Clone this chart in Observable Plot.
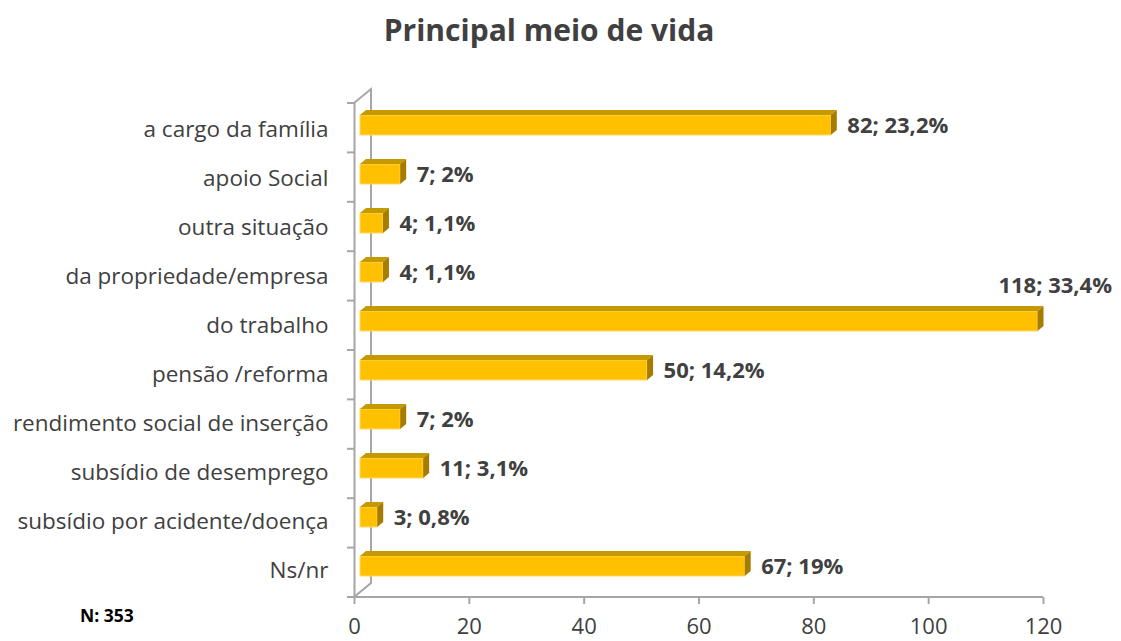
<!DOCTYPE html>
<html><head><meta charset="utf-8">
<script src="https://cdn.jsdelivr.net/npm/d3@7"></script>
<script src="https://cdn.jsdelivr.net/npm/@observablehq/plot@0.6"></script>
<style>
body{margin:0;background:#fff;}
#wrap{position:relative;width:1121px;height:641px;font-family:"Open Sans",sans-serif;overflow:hidden;}
#wrap svg{position:absolute;left:0;top:0;}
#title{position:absolute;left:0;width:1098px;top:9px;line-height:42px;text-align:center;font-weight:bold;font-size:30px;color:#404040;z-index:2;}
#note{position:absolute;left:80px;top:605px;line-height:20px;font-weight:bold;font-size:17.5px;color:#000;z-index:2;}
</style></head><body>
<div id="wrap"><div id="title">Principal meio de vida</div><div id="note">N: 353</div></div>
<script>
const categories = ["a cargo da família","apoio Social","outra situação","da propriedade/empresa","do trabalho","pensão /reforma","rendimento social de inserção","subsídio de desemprego","subsídio por acidente/doença","Ns/nr"];
const counts = [82,7,4,4,118,50,7,11,3,67];
const percents = ["23,2","2","1,1","1,1","33,4","14,2","2","3,1","0,8","19"];
const xTicks = [0,20,40,60,80,100,120];
const data = categories.map((c,i)=>({cat:c, value:counts[i], pct:percents[i]}));

const axisColor = "#a6a6a6";
const textColor = "#404040";
const label = d => `${d.value}; ${d.pct}%`;

const plot = Plot.plot({
  width:1121, height:641,
  marginLeft:354, marginRight:78, marginTop:103, marginBottom:44,
  style:{fontFamily:"'Open Sans', sans-serif", fontSize:"20px", color:textColor, background:"transparent", overflow:"visible"},
  x:{domain:[0,120]},
  y:{domain:categories, padding:0},
  marks:[
    Plot.axisX({ticks:xTicks, tickSize:7, tickPadding:14, stroke:axisColor, strokeWidth:2, fill:textColor, label:null, fontSize:22, tickFormat:d=>String(d)}),
    Plot.axisY({tickSize:0, tickPadding:26, fill:textColor, label:null, fontSize:22.5}),
    Plot.ruleX([0], {stroke:axisColor, strokeWidth:2}),
    Plot.barX(data, {x:"value", y:"cat", fill:"#FFC000", stroke:"#FFD966", strokeWidth:1, insetTop:10, insetBottom:19, dx:6}),
    Plot.text(data.filter(d=>d.value<100), {x:"value", y:"cat", text:label, textAnchor:"start", dx:22, dy:-4, fontWeight:"bold", fill:textColor, fontSize:22}),
    Plot.text(data.filter(d=>d.value>=100), {x:"value", y:"cat", text:label, textAnchor:"end", dx:80, dy:-40, fontWeight:"bold", fill:textColor, fontSize:22})
  ]
});
document.getElementById("wrap").appendChild(plot);

// 3D decoration derived from the plot's own scales
const xs = plot.scale("x"), ys = plot.scale("y");
const x0 = xs.apply(0), x1 = xs.apply(120);
const [yTop, yBot] = ys.range;
const step = (yBot - yTop) / categories.length;
const svg = d3.select(plot);
const back = svg.insert("g", ":first-child").attr("stroke", axisColor).attr("stroke-width", 2).attr("fill", "none");
const dX = 17, dY = 14;
back.append("path").attr("d", `M${x0},${yTop}L${x0+dX},${yTop-dY}L${x0+dX},${yBot-dY}L${x0},${yBot}`);
back.append("path").attr("d", `M${x0},${yBot}L${x1},${yBot}`);
for (let i = 0; i <= categories.length; i++) {
  const yy = yTop + i*step;
  back.append("path").attr("d", `M${x0-7},${yy}L${x0},${yy}`);
}
// top and side faces of the bars
svg.selectAll('g[aria-label="bar"] rect').each(function(){
  const r = d3.select(this);
  const tr = this.getAttribute("transform");
  let ox = 0, oy = 0;
  if (tr) { const m = tr.match(/translate\(([-\d.]+),?\s*([-\d.]+)?\)/); if (m) { ox = +m[1]; oy = +(m[2]||0); } }
  const x = +r.attr("x") + ox, y = +r.attr("y") + oy, w = +r.attr("width"), h = +r.attr("height");
  const g = d3.select(this.parentNode);
  const ex = 6, ey = 5;
  g.append("path").attr("d", `M${x},${y}L${x+ex},${y-ey}L${x+w+ex},${y-ey}L${x+w},${y}Z`).attr("fill", "#C49A00").attr("stroke","none");
  g.append("path").attr("d", `M${x+w},${y}L${x+w+ex},${y-ey}L${x+w+ex},${y+h-ey}L${x+w},${y+h}Z`).attr("fill", "#A67C00").attr("stroke","none");
});
</script>
</body></html>
